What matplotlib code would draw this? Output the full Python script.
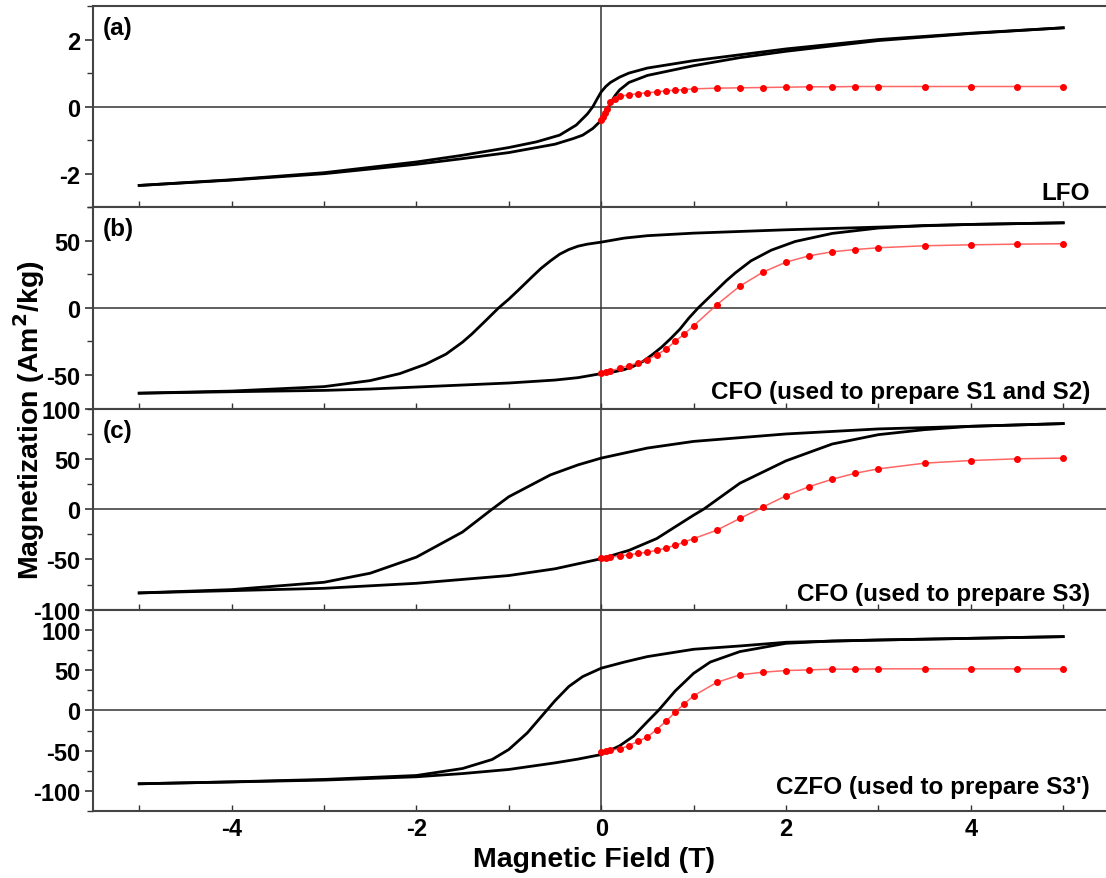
import matplotlib
matplotlib.use("Agg")
import matplotlib.pyplot as plt
from matplotlib.ticker import MultipleLocator

plt.rcParams['font.family'] = ['Liberation Sans', 'DejaVu Sans']
plt.rcParams['font.weight'] = 'bold'
plt.rcParams['axes.unicode_minus'] = False

# ---- (a) LFO ----
a_up_h = [5, 4, 3, 2, 1, 0.5, 0.3, 0.2, 0.1, 0.05, 0, -0.05, -0.09, -0.15, -0.27,
          -0.45, -0.7, -1, -1.5, -2, -3, -4, -5]
a_up_m = [2.35, 2.19, 2.0, 1.72, 1.37, 1.15, 1.0, 0.88, 0.72, 0.6, 0.44, 0.2, 0.0, -0.22, -0.55,
          -0.85, -1.05, -1.22, -1.45, -1.65, -1.97, -2.18, -2.35]
a_low_h = [-5, -4, -3, -2, -1.5, -1, -0.7, -0.5, -0.3, -0.2, -0.09, 0, 0.05, 0.1, 0.15,
           0.2, 0.3, 0.5, 1, 1.5, 2, 3, 4, 5]
a_low_m = [-2.35, -2.19, -2.0, -1.72, -1.55, -1.37, -1.22, -1.12, -0.95, -0.85, -0.65, -0.41, -0.15, 0.1, 0.33,
           0.5, 0.72, 0.93, 1.22, 1.46, 1.65, 1.97, 2.18, 2.35]
a_vir_h = [0, 0.02, 0.04, 0.06, 0.1, 0.15, 0.2, 0.3, 0.4, 0.5, 0.6, 0.7, 0.8, 0.9, 1.0,
           1.25, 1.5, 1.75, 2.0, 2.25, 2.5, 2.75, 3.0, 3.5, 4.0, 4.5, 5.0]
a_vir_m = [-0.40, -0.30, -0.20, -0.07, 0.14, 0.24, 0.31, 0.35, 0.39, 0.41, 0.44, 0.47, 0.49, 0.51, 0.53,
           0.55, 0.56, 0.57, 0.58, 0.59, 0.59, 0.60, 0.60, 0.60, 0.60, 0.60, 0.60]

# ---- (b) CFO (S1, S2) ----
b_up_h = [5, 4, 3, 2, 1, 0.5, 0.25, 0, -0.15, -0.25, -0.35, -0.45, -0.55, -0.65, -0.75,
          -0.9, -1.0, -1.11, -1.25, -1.4, -1.5, -1.68, -1.9, -2.18, -2.5, -3, -4, -5]
b_up_m = [63.4, 62.2, 60.2, 58.2, 55.7, 53.8, 52, 49, 47.5, 46, 43.5, 40, 35, 29.5, 23,
          13, 6.5, 0, -9.5, -19.5, -25.5, -34.5, -42, -49, -54.2, -58.7, -62, -63.6]
b_low_h = [-5, -4, -3, -2.5, -2, -1, -0.5, -0.25, 0, 0.15, 0.25, 0.35, 0.45, 0.55, 0.65,
           0.75, 0.85, 0.95, 1.05, 1.2, 1.35, 1.45, 1.62, 1.84, 2.1, 2.5, 3, 3.5, 4, 5]
b_low_m = [-63.6, -62.5, -61.5, -60.5, -59, -56, -53.8, -52, -49, -47.5, -46, -43.5, -40, -35, -29.5,
           -23, -16, -7.5, 0, 10, 20, 26, 35, 43, 49.5, 55.5, 59.5, 61.4, 62.2, 63.4]
b_vir_h = [0, 0.05, 0.1, 0.2, 0.3, 0.4, 0.5, 0.6, 0.7, 0.8, 0.9, 1.0, 1.25, 1.5, 1.75,
           2.0, 2.25, 2.5, 2.75, 3.0, 3.5, 4.0, 4.5, 5.0]
b_vir_m = [-48.5, -47.8, -47, -45, -43, -41, -38.6, -35, -30.9, -25, -19.4, -13.4, 2.3, 16.2, 26.6,
           34.1, 38.8, 41.8, 43.5, 44.8, 46.3, 47, 47.5, 47.8]

# ---- (c) CFO (S3) ----
c_up_h = [5, 4, 3, 2, 1, 0.5, 0, -0.25, -0.55, -1.0, -1.18, -1.5, -2, -2.5, -3, -4, -5]
c_up_m = [85, 82.3, 79.7, 74.7, 67.3, 60.7, 50.7, 44, 34, 12.3, 0, -22.7, -47.7, -63.7, -72.7, -80, -83.3]
c_low_h = [-5, -4, -3, -2, -1, -0.5, 0, 0.3, 0.6, 1.0, 1.11, 1.5, 2.0, 2.5, 3.0, 3.5, 4, 5]
c_low_m = [-83.3, -81, -78.7, -73.7, -66, -59.3, -49.3, -41, -29.3, -6, 0, 25.7, 48, 64.7, 74, 79, 82.3, 85]
c_vir_h = [0, 0.05, 0.1, 0.2, 0.3, 0.4, 0.5, 0.6, 0.7, 0.8, 0.9, 1.0, 1.25, 1.5, 1.75,
           2.0, 2.25, 2.5, 2.75, 3.0, 3.5, 4.0, 4.5, 5.0]
c_vir_m = [-48.7, -48.2, -47.7, -46.7, -45.3, -44, -42.7, -41, -38.7, -36, -32.7, -29.3, -21, -9.3, 2,
           13.3, 22.3, 29.7, 35.7, 40, 45.7, 48.3, 50, 50.7]

# ---- (d) CZFO (S3') ----
d_up_h = [5, 4, 3, 2, 1.5, 1, 0.5, 0.25, 0, -0.2, -0.35, -0.5, -0.65, -0.8, -1.0,
          -1.18, -1.5, -2, -3, -4, -5]
d_up_m = [91.6, 89.5, 87.4, 84.6, 80, 75.9, 66.8, 60, 52.4, 42, 29.7, 12, -8, -28, -48.6,
          -61, -72.2, -80.9, -85.8, -88.8, -91.2]
d_low_h = [-5, -3, -2, -1.5, -1, -0.5, -0.25, 0, 0.2, 0.35, 0.5, 0.62, 0.8, 1.0, 1.18,
           1.5, 2.0, 2.5, 3.0, 4, 5]
d_low_m = [-91.2, -86.6, -82.5, -78.5, -73.4, -65.2, -60.5, -54.9, -44, -32, -14, 0, 24, 46, 60,
           73, 83.3, 86.2, 87.4, 89.5, 91.6]
d_vir_h = [0, 0.05, 0.1, 0.2, 0.3, 0.4, 0.5, 0.6, 0.7, 0.8, 0.9, 1.0, 1.25, 1.5, 1.75,
           2.0, 2.25, 2.5, 2.75, 3.0, 3.5, 4.0, 4.5, 5.0]
d_vir_m = [-52, -51, -49.5, -47.9, -43.7, -38.4, -33, -24, -13.6, -2.5, 8.2, 18.1, 34.7, 44.1, 47.4,
           49.5, 50.3, 51.2, 51.2, 51.6, 51.6, 51.6, 51.6, 51.6]

panels = [
    ('(a)', 'LFO', a_up_h, a_up_m, a_low_h, a_low_m, a_vir_h, a_vir_m, (-3, 3), 2, 1, 0.04),
    ('(b)', 'CFO (used to prepare S1 and S2)', b_up_h, b_up_m, b_low_h, b_low_m, b_vir_h, b_vir_m,
     (-75, 75), 50, 25, 0.05),
    ('(c)', 'CFO (used to prepare S3)', c_up_h, c_up_m, c_low_h, c_low_m, c_vir_h, c_vir_m,
     (-100, 100), 50, 25, 0.05),
    ('', "CZFO (used to prepare S3')", d_up_h, d_up_m, d_low_h, d_low_m, d_vir_h, d_vir_m,
     (-125, 125), 50, 25, 0.09),
]

W, H = 1106, 879
fig = plt.figure(figsize=(W / 100, H / 100), dpi=100)
left, right = 93 / W, 1109.4 / W
top, bottom = 1 - 7 / H, 1 - 812 / H
ph = (top - bottom) / 4

for i, (tag, name, uh, um, lh, lm, vh, vm, ylim, major, minor, ty) in enumerate(panels):
    ax = fig.add_axes([left, top - (i + 1) * ph, right - left, ph])
    ax.axhline(0, color='#333333', lw=1.1, zorder=1)
    ax.axvline(0, color='#333333', lw=1.1, zorder=1)
    ax.plot(uh, um, color='black', lw=2, zorder=3)
    ax.plot(lh, lm, color='black', lw=2, zorder=3)
    ax.plot(vh, vm, color='#ff4040', lw=1.1, alpha=0.8, zorder=4)
    ax.plot(vh, vm, 'o', color='red', ms=4, mec='red', zorder=5)
    ax.set_xlim(-5.5, 5.5)
    ax.set_ylim(*ylim)
    ax.xaxis.set_major_locator(MultipleLocator(2))
    ax.xaxis.set_minor_locator(MultipleLocator(1))
    ax.yaxis.set_major_locator(MultipleLocator(major))
    ax.yaxis.set_minor_locator(MultipleLocator(minor))
    ax.tick_params(axis='y', which='major', direction='out', length=6, width=1.2,
                   labelsize=17, pad=3, color='#333333')
    ax.tick_params(axis='y', which='minor', direction='out', length=4, width=1, color='#333333')
    ax.tick_params(axis='x', which='both', direction='in', length=4, width=1, color='#333333',
                   labelsize=17, pad=4)
    for lab in ax.get_yticklabels() + ax.get_xticklabels():
        lab.set_fontweight('bold')
    if i < 3:
        ax.tick_params(axis='x', labelbottom=False)
    for sp in ax.spines.values():
        sp.set_color('#444444')
        sp.set_linewidth(1.5)
    if tag:
        ax.text(0.01, 0.95, tag, transform=ax.transAxes, ha='left', va='top',
                fontsize=17.5, fontweight='bold')
    ax.text(0.981, ty, name, transform=ax.transAxes, ha='right', va='baseline',
            fontsize=17.5, fontweight='bold')

fig.text(29 / W, 1 - 420 / H, 'Magnetization (Am$^\\mathbf{2}$/kg)', rotation=90,
         ha='center', va='center', fontsize=20.5, fontweight='bold')
fig.text(594 / W, 1 - 867 / H, 'Magnetic Field (T)', ha='center', va='baseline',
         fontsize=20.5, fontweight='bold')

fig.savefig('out.png', dpi=100)
